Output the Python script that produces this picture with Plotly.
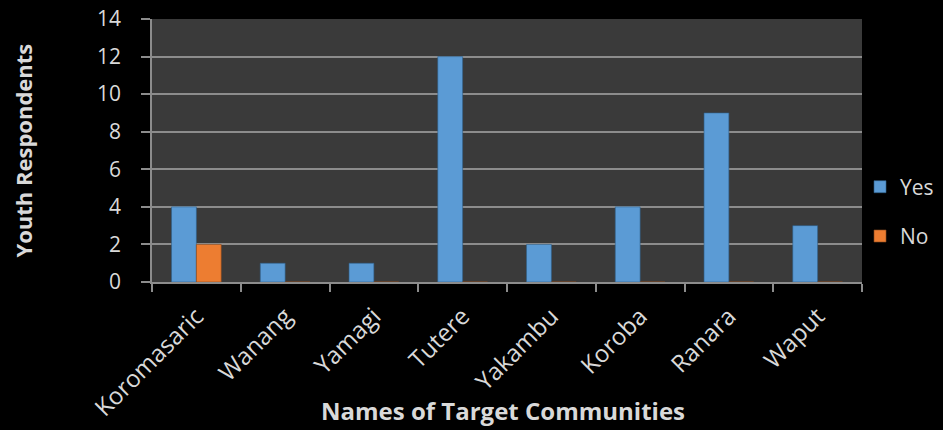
import plotly.graph_objects as go

communities = ["Koromasaric", "Wanang", "Yamagi", "Tutere", "Yakambu", "Koroba", "Ranara", "Waput"]
yes_counts = [4, 1, 1, 12, 2, 4, 9, 3]
no_counts = [2, 0, 0, 0, 0, 0, 0, 0]
y_ticks = [0, 2, 4, 6, 8, 10, 12, 14]

font_family = "Open Sans, Liberation Sans, sans-serif"
text_color = "#d9d9d9"
grid_color = "#8c8c8c"

fig = go.Figure()
fig.add_trace(go.Bar(
    x=communities, y=yes_counts, name="Yes",
    marker=dict(color="#5b9bd5", line=dict(color="#2f5f8a", width=0.6)),
    legendgroup="yes",
))
fig.add_trace(go.Bar(
    x=communities, y=no_counts, name="No",
    marker=dict(color="#ed7d31", line=dict(color="#8a4a1e", width=0.6)),
    legendgroup="no",
))

fig.update_layout(
    width=943, height=430,
    margin=dict(l=152, r=81, t=19, b=148, autoexpand=False),
    paper_bgcolor="#000000",
    plot_bgcolor="#3a3a3a",
    barmode="group",
    bargap=0.44,
    bargroupgap=0,
    font=dict(family=font_family, color=text_color),
    legend=dict(
        xref="container", yref="container",
        x=0.912, y=0.508, xanchor="left", yanchor="middle",
        font=dict(size=21, color=text_color),
        tracegroupgap=19,
        traceorder="grouped",
        itemwidth=30,
        bgcolor="rgba(0,0,0,0)",
    ),
    xaxis=dict(
        type="category",
        automargin=False,
        tickson="boundaries",
        ticks="outside", ticklen=8, tickcolor=grid_color, tickwidth=1.5,
        showline=True, linecolor=grid_color, linewidth=1.5,
        showgrid=False,
        tickangle=-45,
        ticklabelstandoff=9,
        tickfont=dict(size=24, color=text_color, family=font_family),
    ),
    yaxis=dict(
        range=[0, 14],
        automargin=False,
        tickvals=y_ticks,
        ticks="outside", ticklen=9, tickcolor=grid_color, tickwidth=1.5,
        showline=True, linecolor=grid_color, linewidth=1.5,
        showgrid=True, gridcolor=grid_color, gridwidth=1.5,
        zeroline=False,
        ticklabelstandoff=16,
        tickfont=dict(size=21, color=text_color, family=font_family),
    ),
    annotations=[
        dict(text="<b>Names of Target Communities</b>",
             xref="paper", yref="paper", x=0.495, y=-0.487,
             xanchor="center", yanchor="middle", showarrow=False,
             font=dict(size=24, color=text_color, family=font_family)),
        dict(text="<b>Youth Respondents</b>",
             xref="paper", yref="paper", x=-0.183, y=0.5,
             xanchor="center", yanchor="middle", textangle=-90, showarrow=False,
             font=dict(size=22, color=text_color, family=font_family)),
    ],
)

fig.write_html("out.html")
